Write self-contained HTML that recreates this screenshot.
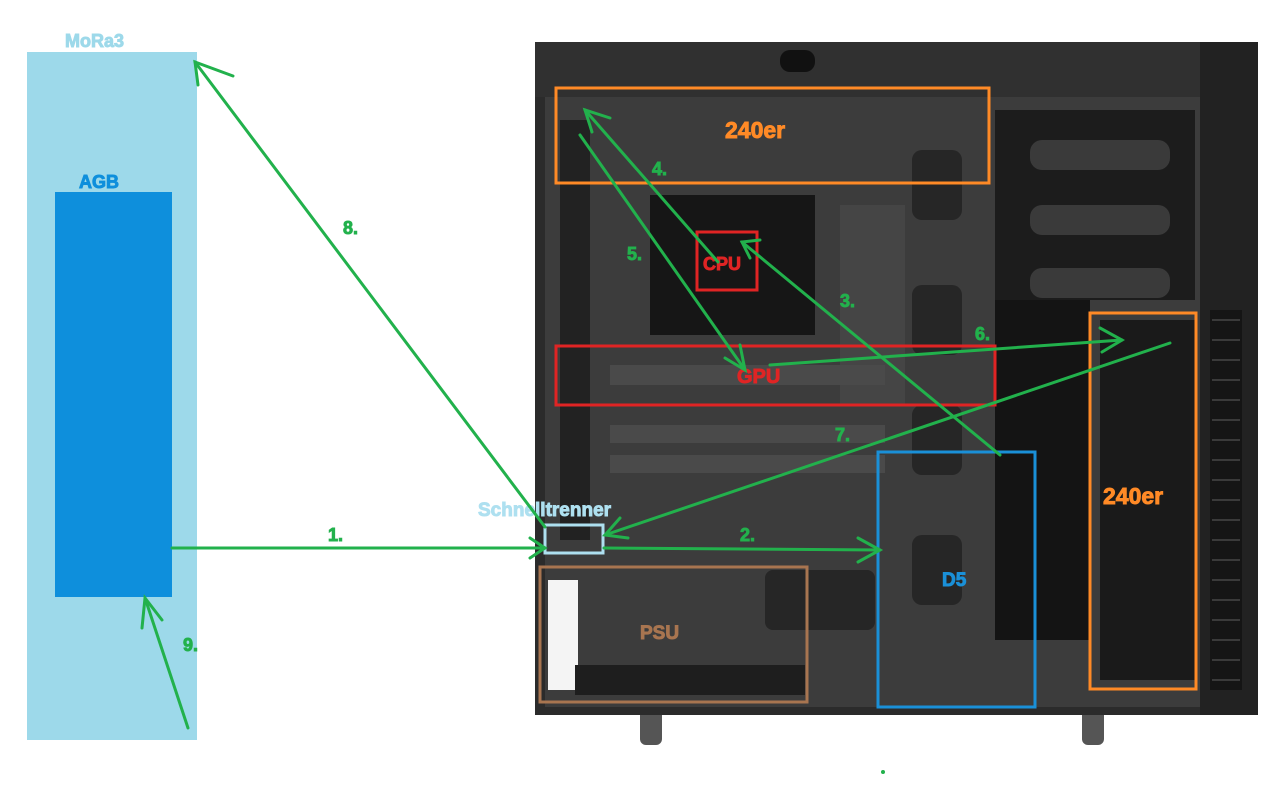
<!DOCTYPE html>
<html><head><meta charset="utf-8"><style>
html,body{margin:0;padding:0;background:#fff;}
svg{display:block;font-family:"Liberation Sans",sans-serif;font-weight:bold;}
text{paint-order:stroke;stroke-width:0.9px;}
</style></head><body>
<svg width="1273" height="800" viewBox="0 0 1273 800" xmlns="http://www.w3.org/2000/svg">
<rect width="1273" height="800" fill="#fff"/>
<rect x="640" y="700" width="22" height="45" rx="6" fill="#555"/>
<rect x="1082" y="700" width="22" height="45" rx="6" fill="#555"/>
<rect x="535" y="42" width="723" height="673" fill="#2b2b2b"/>
<rect x="535" y="42" width="665" height="55" fill="#303030"/>
<rect x="780" y="50" width="35" height="22" rx="10" fill="#111"/>
<rect x="545" y="97" width="655" height="610" fill="#3c3c3c"/>
<rect x="1200" y="42" width="58" height="673" fill="#222"/>
<rect x="1210" y="310" width="32" height="380" fill="#151515"/>
<g stroke="#3a3a3a" stroke-width="2">
<line x1="1212" y1="320" x2="1240" y2="320"/><line x1="1212" y1="340" x2="1240" y2="340"/><line x1="1212" y1="360" x2="1240" y2="360"/><line x1="1212" y1="380" x2="1240" y2="380"/><line x1="1212" y1="400" x2="1240" y2="400"/><line x1="1212" y1="420" x2="1240" y2="420"/><line x1="1212" y1="440" x2="1240" y2="440"/><line x1="1212" y1="460" x2="1240" y2="460"/><line x1="1212" y1="480" x2="1240" y2="480"/><line x1="1212" y1="500" x2="1240" y2="500"/><line x1="1212" y1="520" x2="1240" y2="520"/><line x1="1212" y1="540" x2="1240" y2="540"/><line x1="1212" y1="560" x2="1240" y2="560"/><line x1="1212" y1="580" x2="1240" y2="580"/><line x1="1212" y1="600" x2="1240" y2="600"/><line x1="1212" y1="620" x2="1240" y2="620"/><line x1="1212" y1="640" x2="1240" y2="640"/><line x1="1212" y1="660" x2="1240" y2="660"/><line x1="1212" y1="680" x2="1240" y2="680"/>
</g>
<rect x="995" y="110" width="200" height="190" fill="#1c1c1c"/>
<rect x="1030" y="140" width="140" height="30" rx="12" fill="#3a3a3a"/>
<rect x="1030" y="205" width="140" height="30" rx="12" fill="#3a3a3a"/>
<rect x="1030" y="268" width="140" height="30" rx="12" fill="#3a3a3a"/>
<rect x="995" y="300" width="95" height="340" fill="#141414"/>
<rect x="1100" y="320" width="95" height="360" fill="#1a1a1a"/>
<rect x="650" y="195" width="165" height="140" fill="#161616"/>
<rect x="840" y="205" width="65" height="200" fill="#454545"/>
<rect x="912" y="150" width="50" height="70" rx="10" fill="#262626"/>
<rect x="912" y="285" width="50" height="70" rx="10" fill="#262626"/>
<rect x="912" y="405" width="50" height="70" rx="10" fill="#262626"/>
<rect x="912" y="535" width="50" height="70" rx="10" fill="#262626"/>
<rect x="765" y="570" width="110" height="60" rx="8" fill="#262626"/>
<rect x="560" y="120" width="30" height="420" fill="#222"/>
<rect x="548" y="580" width="30" height="110" fill="#f4f4f4"/>
<rect x="575" y="665" width="230" height="30" fill="#1e1e1e"/>
<rect x="610" y="365" width="275" height="20" fill="#4a4a4a"/>
<rect x="610" y="425" width="275" height="18" fill="#4a4a4a"/>
<rect x="610" y="455" width="275" height="18" fill="#4a4a4a"/>
<rect x="27" y="52" width="170" height="688" fill="#9dd9ea"/>
<rect x="55" y="192" width="117" height="405" fill="#0e8fdc"/>
<text x="65" y="47" font-size="18" fill="#9dd9ea" stroke="#9dd9ea">MoRa3</text>
<text x="79" y="188" font-size="18" fill="#0e8fdc" stroke="#0e8fdc">AGB</text>
<g fill="none" stroke-width="3">
<rect x="556" y="88" width="433" height="95" stroke="#ff8a26"/>
<rect x="1090" y="313" width="106" height="376" stroke="#ff8a26"/>
<rect x="556" y="346" width="439" height="59" stroke="#e02424"/>
<rect x="697" y="232" width="60" height="58" stroke="#e02424"/>
<rect x="545" y="525" width="58" height="28" stroke="#aee0f0"/>
<rect x="540" y="567" width="267" height="135" stroke="#a87550"/>
<rect x="878" y="452" width="157" height="255" stroke="#1a90d8"/>
</g>
<text x="725" y="138" font-size="23" fill="#ff8a26" stroke="#ff8a26">240er</text>
<text x="1103" y="504" font-size="23" fill="#ff8a26" stroke="#ff8a26">240er</text>
<text x="737" y="383" font-size="20" fill="#e02424" stroke="#e02424">GPU</text>
<text x="703" y="270" font-size="18" fill="#e02424" stroke="#e02424">CPU</text>
<text x="478" y="516" font-size="19" fill="#aee0f0" stroke="#aee0f0">Schnelltrenner</text>
<text x="640" y="639" font-size="19" fill="#a87550" stroke="#a87550">PSU</text>
<text x="942" y="586" font-size="19" fill="#1a90d8" stroke="#1a90d8">D5</text>
<g stroke="#22b14c" stroke-width="3" fill="none" stroke-linecap="round">
<line x1="172" y1="548" x2="545" y2="548"/><polyline points="530,538 545,548 530,558"/>
<line x1="604" y1="548" x2="880" y2="550"/><polyline points="858,538 880,550 858,562"/>
<line x1="1000" y1="455" x2="742" y2="242"/><polyline points="760,240 742,242 750,258"/>
<line x1="718" y1="262" x2="585" y2="110"/><polyline points="610,118 585,110 592,132"/>
<line x1="580" y1="135" x2="745" y2="370"/><polyline points="740,345 745,370 725,358"/>
<line x1="770" y1="365" x2="1122" y2="340"/><polyline points="1100,328 1122,340 1102,352"/>
<line x1="1170" y1="343" x2="605" y2="535"/><polyline points="628,538 605,535 620,518"/>
<line x1="545" y1="527" x2="195" y2="62"/><polyline points="198,85 195,62 233,76"/>
<line x1="188" y1="728" x2="145" y2="598"/><polyline points="142,628 145,598 162,620"/>
</g>
<g font-size="18" fill="#22b14c" stroke="#22b14c">
<text x="328" y="541">1.</text><text x="740" y="541">2.</text><text x="840" y="307">3.</text>
<text x="652" y="175">4.</text><text x="627" y="260">5.</text><text x="975" y="340">6.</text>
<text x="835" y="441">7.</text><text x="343" y="234">8.</text><text x="183" y="651">9.</text>
</g>
<circle cx="883" cy="772" r="2" fill="#22b14c"/>
</svg>
</body></html>
